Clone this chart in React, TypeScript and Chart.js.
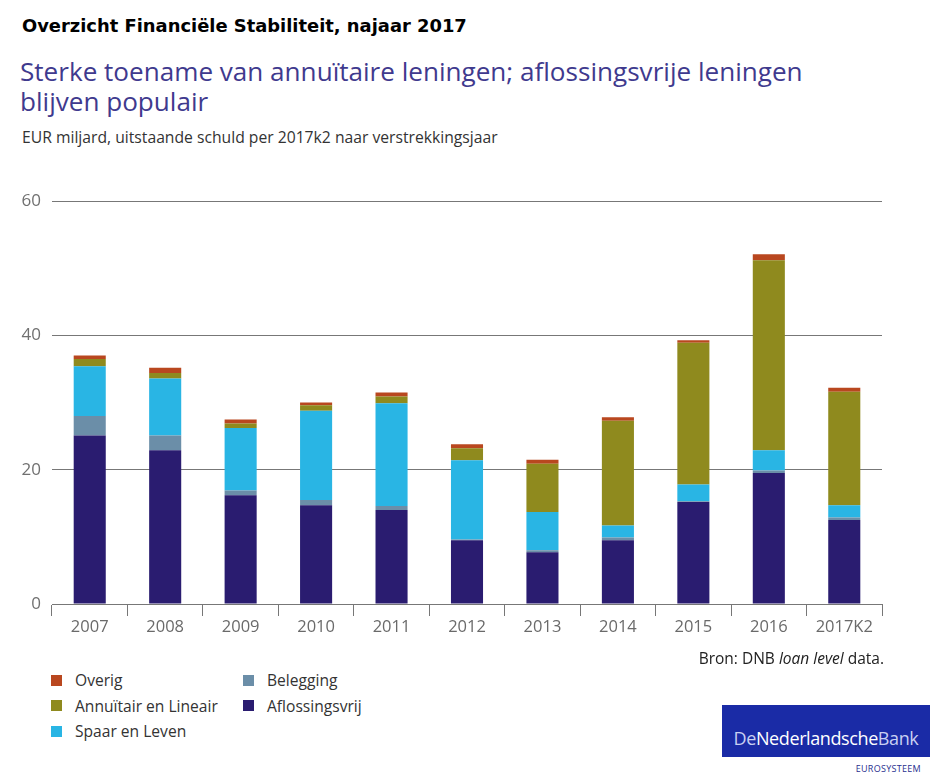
import React, { useEffect, useRef } from "react";
import { Chart, registerables } from "chart.js";

Chart.register(...registerables);

// Year of origination
const categories = ["2007", "2008", "2009", "2010", "2011", "2012", "2013", "2014", "2015", "2016", "2017K2"];

// Outstanding debt per 2017Q2, EUR billion
const aflossingsvrij = [25.1, 22.9, 16.2, 14.7, 14.0, 9.5, 7.7, 9.5, 15.2, 19.5, 12.5];
const belegging = [2.9, 2.2, 0.7, 0.8, 0.6, 0.1, 0.3, 0.4, 0.1, 0.4, 0.4];
const spaarEnLeven = [7.4, 8.5, 9.3, 13.3, 15.3, 11.8, 5.7, 1.8, 2.5, 3.0, 1.8];
const annuitairEnLineair = [1.1, 0.8, 0.7, 0.8, 1.0, 1.8, 7.2, 15.6, 21.1, 28.3, 16.9];
const overig = [0.5, 0.8, 0.6, 0.4, 0.6, 0.6, 0.6, 0.5, 0.4, 0.9, 0.6];

const yTicks = [0, 20, 40, 60];

const COLORS = {
  overig: "#b9471f",
  annuitair: "#8f8a1e",
  spaar: "#29b5e4",
  belegging: "#6b8ea8",
  aflossingsvrij: "#2a1c70",
};

const FONT = "'Open Sans', 'Noto Sans', sans-serif";

function BarChart() {
  const canvasRef = useRef<HTMLCanvasElement | null>(null);

  useEffect(() => {
    const canvas = canvasRef.current;
    if (!canvas) return;
    const chart = new Chart(canvas, {
      type: "bar",
      data: {
        labels: categories,
        datasets: [
          { label: "Aflossingsvrij", data: aflossingsvrij, backgroundColor: COLORS.aflossingsvrij },
          { label: "Belegging", data: belegging, backgroundColor: COLORS.belegging },
          { label: "Spaar en Leven", data: spaarEnLeven, backgroundColor: COLORS.spaar },
          { label: "Annuïtair en Lineair", data: annuitairEnLineair, backgroundColor: COLORS.annuitair },
          { label: "Overig", data: overig, backgroundColor: COLORS.overig },
        ],
      },
      options: {
        animation: false,
        responsive: false,
        maintainAspectRatio: false,
        layout: { padding: { left: 0, right: 68, top: 20, bottom: 0 } },
        datasets: {
          bar: { categoryPercentage: 1, barPercentage: 0.425, borderWidth: 0 },
        },
        plugins: {
          legend: { display: false },
          tooltip: { enabled: false },
          title: { display: false },
        },
        scales: {
          x: {
            stacked: true,
            offset: true,
            afterFit: (scale: any) => {
              scale.height = 46;
            },
            grid: {
              offset: true,
              drawOnChartArea: false,
              drawTicks: true,
              tickLength: 12,
              color: "#777777",
              lineWidth: 1,
            },
            border: { display: true, color: "#777777", width: 1 },
            ticks: {
              color: "#6a6a6a",
              font: { family: FONT, size: 16.5 },
              padding: 1,
              maxRotation: 0,
              autoSkip: false,
            },
          },
          y: {
            stacked: true,
            min: 0,
            max: 60,
            afterFit: (scale: any) => {
              scale.width = 52;
            },
            afterBuildTicks: (scale: any) => {
              scale.ticks = yTicks.map((v) => ({ value: v }));
            },
            grid: {
              drawTicks: false,
              color: "#777777",
              lineWidth: 1,
            },
            border: { display: false },
            ticks: {
              color: "#707070",
              font: { family: FONT, size: 17 },
              padding: 11,
            },
          },
        },
      },
    });
    return () => chart.destroy();
  }, []);

  return (
    <canvas
      ref={canvasRef}
      width={950}
      height={470}
      style={{ position: "absolute", left: 0, top: 180, width: 950, height: 470 }}
    />
  );
}

const legendItems = [
  { label: "Overig", color: COLORS.overig, col: 0, row: 0 },
  { label: "Annuïtair en Lineair", color: COLORS.annuitair, col: 0, row: 1 },
  { label: "Spaar en Leven", color: COLORS.spaar, col: 0, row: 2 },
  { label: "Belegging", color: COLORS.belegging, col: 1, row: 0 },
  { label: "Aflossingsvrij", color: COLORS.aflossingsvrij, col: 1, row: 1 },
];

export default function App() {
  return (
    <div
      style={{
        position: "fixed",
        left: 0,
        top: 0,
        width: 950,
        height: 783,
        background: "#ffffff",
        overflow: "hidden",
        fontFamily: FONT,
      }}
    >
      <div
        style={{
          position: "absolute",
          left: 22,
          top: 15,
          fontFamily: "'DejaVu Sans', Verdana, sans-serif",
          fontWeight: "bold",
          fontSize: 17.9,
          color: "#000000",
          whiteSpace: "nowrap",
        }}
      >
        Overzicht Financiële Stabiliteit, najaar 2017
      </div>
      <div
        style={{
          position: "absolute",
          left: 20,
          top: 56,
          fontSize: 26.1,
          lineHeight: "30px",
          color: "#3f3a8e",
          width: 900,
        }}
      >
        Sterke toename van annuïtaire leningen; aflossingsvrije leningen
        <br />
        blijven populair
      </div>
      <div
        style={{
          position: "absolute",
          left: 22,
          top: 126,
          fontSize: 15.7,
          color: "#333333",
          whiteSpace: "nowrap",
        }}
      >
        EUR miljard, uitstaande schuld per 2017k2 naar verstrekkingsjaar
      </div>

      <BarChart />

      <div
        style={{
          position: "absolute",
          right: 66,
          top: 647,
          fontSize: 15.5,
          color: "#222222",
          whiteSpace: "nowrap",
        }}
      >
        Bron: DNB <i>loan level</i> data.
      </div>

      {legendItems.map((it) => (
        <div
          key={it.label}
          style={{
            position: "absolute",
            left: it.col === 0 ? 51 : 243,
            top: 669 + it.row * 25.5,
            display: "flex",
            alignItems: "center",
            height: 22,
            fontSize: 15.6,
            color: "#333333",
            whiteSpace: "nowrap",
          }}
        >
          <span
            style={{
              display: "inline-block",
              width: 11,
              height: 11,
              background: it.color,
              marginRight: 13,
            }}
          />
          {it.label}
        </div>
      ))}

      <div
        style={{
          position: "absolute",
          left: 722,
          top: 705,
          width: 208,
          height: 52,
          background: "#1a2ba6",
          display: "flex",
          alignItems: "flex-end",
          justifyContent: "center",
          boxSizing: "border-box",
        }}
      >
        <div
          style={{
            fontSize: 18,
            lineHeight: "22px",
            marginBottom: 8,
            whiteSpace: "nowrap",
            letterSpacing: -0.4,
          }}
        >
          <span style={{ color: "#c9d0f2" }}>De</span>
          <span style={{ color: "#ffffff", fontWeight: 500 }}>Nederlandsche</span>
          <span style={{ color: "#c9d0f2" }}>Bank</span>
        </div>
      </div>
      <div
        style={{
          position: "absolute",
          right: 29,
          top: 762,
          fontSize: 9,
          letterSpacing: 0.3,
          color: "#2a2f8f",
          whiteSpace: "nowrap",
        }}
      >
        EUROSYSTEEM
      </div>
    </div>
  );
}
